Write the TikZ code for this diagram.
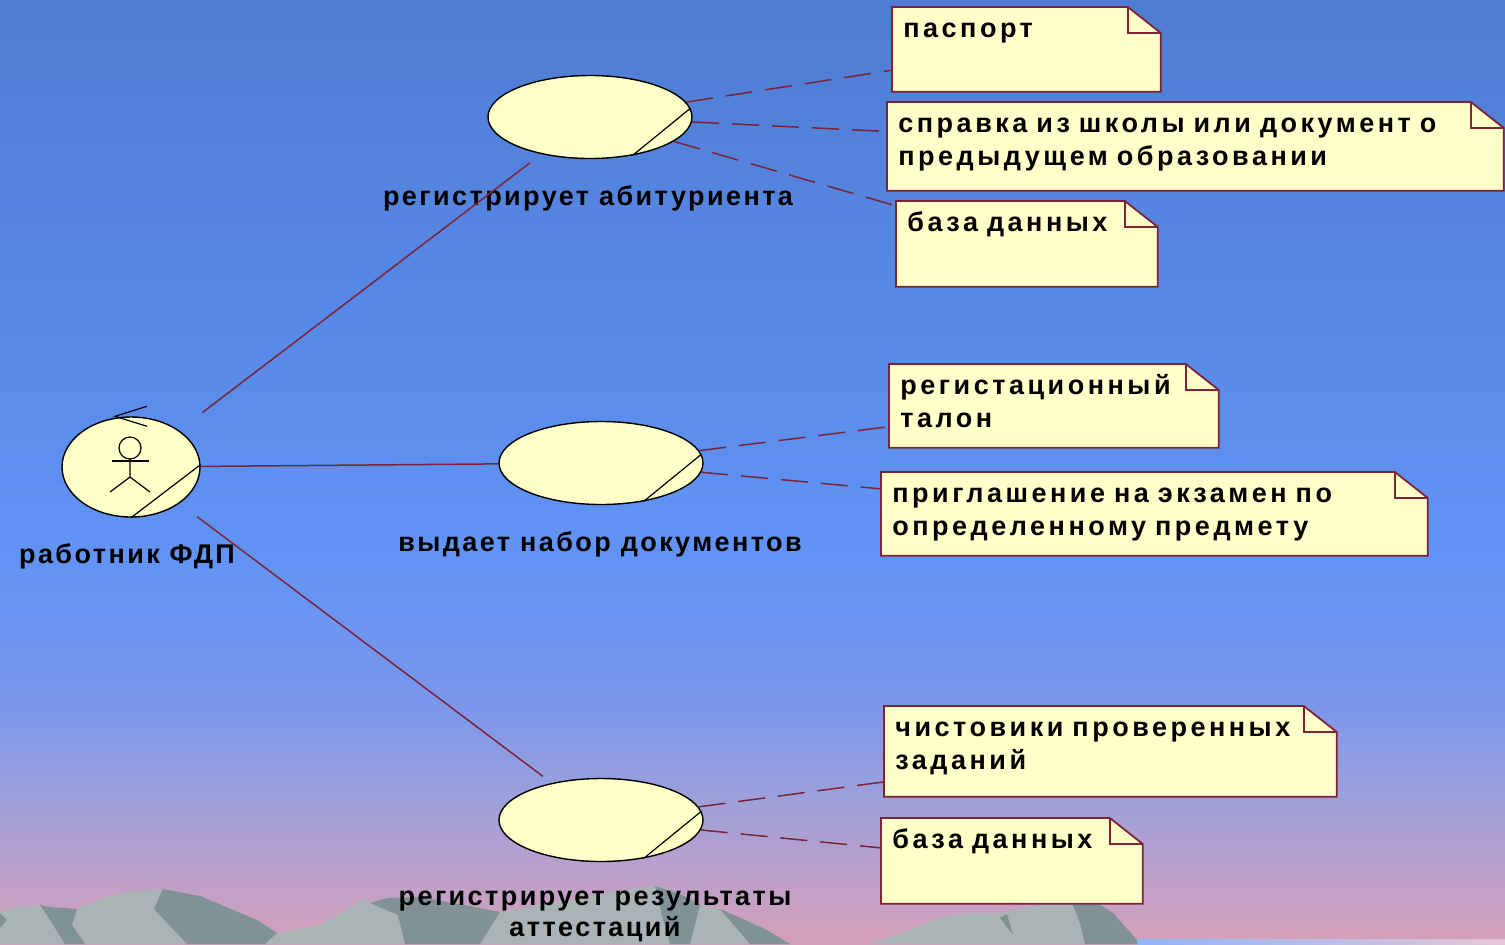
\documentclass[tikz,border=0pt]{standalone}
\usepackage{fontspec}
\setmainfont{Liberation Sans}[LetterSpace=13]
\newfontfamily\captionfont{Liberation Sans}[LetterSpace=9]
\usetikzlibrary{shapes.geometric}

\pgfdeclarelayer{sky}
\pgfdeclarelayer{paper}
\pgfsetlayers{sky,paper,main}

\definecolor{sky0}{RGB}{80,125,210}
\definecolor{sky1}{RGB}{88,137,232}
\definecolor{sky2}{RGB}{98,148,245}
\definecolor{sky3}{RGB}{122,150,236}
\definecolor{sky4}{RGB}{158,160,218}
\definecolor{sky5}{RGB}{190,160,200}
\definecolor{sky6}{RGB}{212,160,185}
\definecolor{rocklight}{RGB}{170,180,180}
\definecolor{rockdark}{RGB}{128,146,150}
\definecolor{usefill}{RGB}{255,255,200}
\definecolor{notefill}{RGB}{255,255,202}
\definecolor{rosered}{RGB}{125,35,55}

\tikzset{
  usecase/.style={ellipse, draw=black, line width=0.7pt, fill=usefill,
    minimum width=102pt, minimum height=41.5pt, inner sep=0pt},
  caption/.style={font=\captionfont\fontsize{13.5}{15.5}\selectfont\bfseries, align=center, inner sep=0pt},
  note/.style 2 args={anchor=north west, inner xsep=5.5pt, inner ysep=0pt, align=left,
    text width=#1, text height=15pt, text depth=#2,
    font=\fontsize{13.5}{16.5}\selectfont\bfseries},
  notebox/.style={fill=notefill, draw=rosered, line width=0.9pt},
  assoc/.style={draw=rosered, line width=0.75pt},
  noteline/.style={draw=rosered, line width=0.75pt, dash pattern=on 13.5pt off 6.5pt},
}

\begin{document}
\begin{tikzpicture}[x=0.5pt, y=-0.5pt]
\useasboundingbox (0,0) rectangle (1505,944);
% Sky and mountains
\begin{pgfonlayer}{sky}
    \shade[top color=sky0, bottom color=sky1] (0,0) rectangle (1505,321);
    \shade[top color=sky1, bottom color=sky2] (0,320) rectangle (1505,561);
    \shade[top color=sky2, bottom color=sky3] (0,560) rectangle (1505,701);
    \shade[top color=sky3, bottom color=sky4] (0,700) rectangle (1505,801);
    \shade[top color=sky4, bottom color=sky5] (0,800) rectangle (1505,881);
    \shade[top color=sky5, bottom color=sky6] (0,880) rectangle (1505,944);
    \shade[left color=sky2!70!white, right color=sky6!60!white] (1137,939) rectangle (1505,944);
    \fill[rocklight] (0,944) -- (0,912) -- (13,907) -- (40,905) -- (50,907) -- (77,909)
        -- (100,899) -- (130,892) -- (163,889) -- (173,891) -- (200,896) -- (257,920)
        -- (277,933) -- (320,925) -- (365,899) -- (370,903) -- (388,898) -- (420,897)
        -- (460,905) -- (500,912) -- (540,905) -- (583,898) -- (620,891) -- (655,886)
        -- (680,894) -- (700,905) -- (720,909) -- (743,919) -- (767,930) -- (790,944) -- cycle;
    \fill[rocklight] (870,944) -- (900,933) -- (940,918) -- (967,913) -- (1000,913)
        -- (1043,905) -- (1072,903) -- (1097,903) -- (1113,913) -- (1137,940) -- (1137,944) -- cycle;
    \fill[rockdark] (0,913) -- (7,920) -- (0,928) -- cycle;
    \fill[rockdark] (40,905) -- (50,907) -- (77,909) -- (72,925) -- (85,944) -- (65,944) -- (50,920) -- cycle;
    \fill[rockdark] (163,889) -- (173,891) -- (200,896) -- (257,920) -- (277,933) -- (265,944)
        -- (187,944) -- (154,909) -- cycle;
    \fill[rockdark] (370,903) -- (388,898) -- (420,897) -- (470,906) -- (500,912) -- (480,944)
        -- (405,944) -- (398,915) -- cycle;
    \fill[rockdark] (655,886) -- (680,894) -- (700,905) -- (690,944) -- (670,944) -- (662,915) -- cycle;
    \fill[rockdark] (720,909) -- (743,919) -- (767,930) -- (790,944) -- (750,944) -- cycle;
    \fill[rockdark] (1072,903) -- (1097,903) -- (1113,913) -- (1137,940) -- (1137,944)
        -- (1085,944) -- (1080,923) -- cycle;
    \fill[rockdark] (1000,918) -- (1013,935) -- (1007,914) -- cycle;
\end{pgfonlayer}
% Actor
    \node[usecase, minimum width=69pt, minimum height=50pt] (actor) at (131,467) {};
    \draw[line width=0.6pt] ([shift={(-1,-19)}]actor.center) circle[radius=5.5pt];
    \draw[line width=0.6pt] ([shift={(-19,-6)}]actor.center) -- ++(37,0);
    \draw[line width=0.6pt] ([shift={(-1,-8)}]actor.center) -- ++(0,18) -- ++(-20,15);
    \draw[line width=0.6pt] ([shift={(-1,10)}]actor.center) -- ++(20,15);
    \draw[line width=0.6pt] (actor.2) -- (actor.-90);
    \draw[line width=0.6pt] (actor.north) ++(16,-10) -- ++(-32,10) -- ++(32,10);
    \node[caption] (actor-name) at (127,556) {работник ФДП};
% Use cases
    \node[usecase] (uc1) at (590,117) {};
    \node[usecase] (uc2) at (601,463) {};
    \node[usecase] (uc3) at (601,820) {};
    \draw[line width=0.6pt] (uc1.5) -- (uc1.-42);
    \draw[line width=0.6pt] (uc2.5) -- (uc2.-42);
    \draw[line width=0.6pt] (uc3.5) -- (uc3.-42);
    \node[caption] (uc1-name) at (588,198) {регистрирует абитуриента};
    \node[caption] (uc2-name) at (600,544) {выдает набор документов};
    \node[caption] (uc3-name) at (595,916) {регистрирует результаты\\аттестаций};
% Notes
    \node[note={123pt}{27pt}] (pasport) at (892,7) {паспорт};
    \node[note={297pt}{29pt}] (spravka) at (887,102) {справка из школы или документ о\\предыдущем образовании};
    \node[note={119.5pt}{27.5pt}] (baza1) at (896,201) {база данных};
    \node[note={153.5pt}{26.5pt}] (talon) at (889,364) {регистационный\\талон};
    \node[note={262pt}{26.5pt}] (priglash) at (881,472) {приглашение на экзамен по\\определенному предмету};
    \node[note={215pt}{30pt}] (chistoviki) at (884,706) {чистовики проверенных\\заданий};
    \node[note={119.5pt}{27.5pt}] (baza2) at (881,818) {база данных};
\begin{pgfonlayer}{paper}
    \foreach \n in {pasport,spravka,baza1,talon,priglash,chistoviki,baza2} {
        \filldraw[notebox] (\n.south west) -- (\n.north west) -- ([xshift=-16.5pt]\n.north east)
            -- ([yshift=-13pt]\n.north east) -- (\n.south east) -- cycle;
        \draw[notebox, fill=none] ([xshift=-16.5pt]\n.north east) |- ([yshift=-13pt]\n.north east);
    }
\end{pgfonlayer}
% Associations
    \draw[assoc, shorten <=14.5pt, shorten >=7pt] (actor) -- (uc1);
    \draw[assoc] (actor) -- (uc2);
    \draw[assoc, shorten <=11pt, shorten >=5.5pt] (actor) -- (uc3);
% Note links
    \draw[noteline] (uc1) -- (pasport);
    \draw[noteline] (uc1) -- (spravka);
    \draw[noteline] (uc1) -- (baza1);
    \draw[noteline] (uc2) -- (talon);
    \draw[noteline] (uc2) -- (priglash);
    \draw[noteline] (uc3) -- (chistoviki);
    \draw[noteline] (uc3) -- (baza2);
\end{tikzpicture}
\end{document}
